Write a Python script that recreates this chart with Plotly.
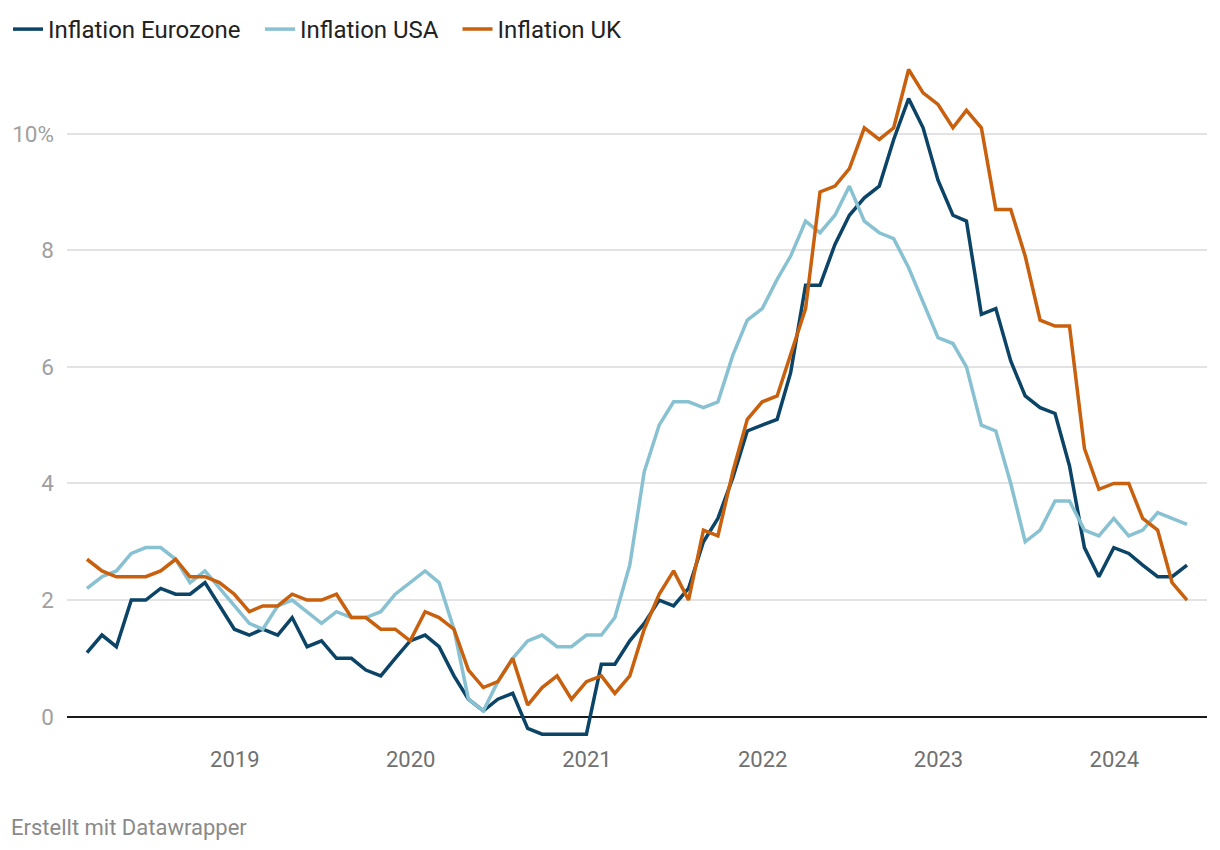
import pandas as pd
import plotly.graph_objects as go

months = pd.date_range("2018-02-01", "2024-05-01", freq="MS") + pd.offsets.MonthEnd(0)

eurozone = [1.1, 1.4, 1.2, 2.0, 2.0, 2.2, 2.1, 2.1, 2.3, 1.9, 1.5,
            1.4, 1.5, 1.4, 1.7, 1.2, 1.3, 1.0, 1.0, 0.8, 0.7, 1.0, 1.3,
            1.4, 1.2, 0.7, 0.3, 0.1, 0.3, 0.4, -0.2, -0.3, -0.3, -0.3, -0.3,
            0.9, 0.9, 1.3, 1.6, 2.0, 1.9, 2.2, 3.0, 3.4, 4.1, 4.9, 5.0,
            5.1, 5.9, 7.4, 7.4, 8.1, 8.6, 8.9, 9.1, 9.9, 10.6, 10.1, 9.2,
            8.6, 8.5, 6.9, 7.0, 6.1, 5.5, 5.3, 5.2, 4.3, 2.9, 2.4, 2.9,
            2.8, 2.6, 2.4, 2.4, 2.6]
usa = [2.2, 2.4, 2.5, 2.8, 2.9, 2.9, 2.7, 2.3, 2.5, 2.2, 1.9,
       1.6, 1.5, 1.9, 2.0, 1.8, 1.6, 1.8, 1.7, 1.7, 1.8, 2.1, 2.3,
       2.5, 2.3, 1.5, 0.3, 0.1, 0.6, 1.0, 1.3, 1.4, 1.2, 1.2, 1.4,
       1.4, 1.7, 2.6, 4.2, 5.0, 5.4, 5.4, 5.3, 5.4, 6.2, 6.8, 7.0,
       7.5, 7.9, 8.5, 8.3, 8.6, 9.1, 8.5, 8.3, 8.2, 7.7, 7.1, 6.5,
       6.4, 6.0, 5.0, 4.9, 4.0, 3.0, 3.2, 3.7, 3.7, 3.2, 3.1, 3.4,
       3.1, 3.2, 3.5, 3.4, 3.3]
uk = [2.7, 2.5, 2.4, 2.4, 2.4, 2.5, 2.7, 2.4, 2.4, 2.3, 2.1,
      1.8, 1.9, 1.9, 2.1, 2.0, 2.0, 2.1, 1.7, 1.7, 1.5, 1.5, 1.3,
      1.8, 1.7, 1.5, 0.8, 0.5, 0.6, 1.0, 0.2, 0.5, 0.7, 0.3, 0.6,
      0.7, 0.4, 0.7, 1.5, 2.1, 2.5, 2.0, 3.2, 3.1, 4.2, 5.1, 5.4,
      5.5, 6.2, 7.0, 9.0, 9.1, 9.4, 10.1, 9.9, 10.1, 11.1, 10.7, 10.5,
      10.1, 10.4, 10.1, 8.7, 8.7, 7.9, 6.8, 6.7, 6.7, 4.6, 3.9, 4.0,
      4.0, 3.4, 3.2, 2.3, 2.0]

series_names = ["Inflation Eurozone", "Inflation USA", "Inflation UK"]
series_colors = ["#0b4466", "#88c1d1", "#c8600e"]

y_tickvals = [0, 2, 4, 6, 8, 10]
y_ticktext = ["0", "2", "4", "6", "8", "10%"]
x_tickvals = ["2019-01-01", "2020-01-01", "2021-01-01", "2022-01-01", "2023-01-01", "2024-01-01"]
x_ticktext = ["2019", "2020", "2021", "2022", "2023", "2024"]

W, H = 1212, 842
L, T, PW, PH = 59, 44, 1140, 688

legend_ids = ["legend", "legend2", "legend3"]
legend_left_px = [0, 252, 449.5]

fig = go.Figure()
for name, vals, col, lid in zip(series_names, [eurozone, usa, uk], series_colors, legend_ids):
    fig.add_trace(go.Scatter(x=months, y=vals, mode="lines", name=name, legend=lid,
                             line=dict(color=col, width=3.5)))

x0 = months[0] - pd.Timedelta(days=41.5)
x1 = months[-1] + pd.Timedelta(days=41.5)

legend_common = dict(orientation="h", xanchor="left", yanchor="middle", yref="paper",
                     y=1 + (T - 21.5) / PH, font=dict(size=24, color="#222222"),
                     itemwidth=30, bgcolor="rgba(0,0,0,0)")

fig.update_layout(
    width=W, height=H,
    margin=dict(l=L, r=W - L - PW, t=T, b=H - T - PH, autoexpand=False),
    paper_bgcolor="white", plot_bgcolor="white",
    font=dict(family="Roboto", color="#333333"),
    showlegend=True,
    legend=dict(x=(legend_left_px[0] - L) / PW, **legend_common),
    legend2=dict(x=(legend_left_px[1] - L) / PW, **legend_common),
    legend3=dict(x=(legend_left_px[2] - L) / PW, **legend_common),
    xaxis=dict(type="date", range=[x0, x1], tickvals=x_tickvals, ticktext=x_ticktext,
               showgrid=False, zeroline=False, showline=False, ticks="",
               tickfont=dict(size=22, color="#707070"), ticklabelstandoff=4),
    yaxis=dict(range=[-0.4, 11.4], tickvals=y_tickvals, ticktext=y_ticktext,
               showgrid=True, gridcolor="#e3e3e3", gridwidth=1.5,
               zeroline=True, zerolinecolor="#1a1a1a", zerolinewidth=2,
               showline=False, ticks="",
               tickfont=dict(size=22.5, color="#a0a0a0"), ticklabelstandoff=12),
)

fig.add_annotation(text="Erstellt mit Datawrapper", xref="paper", yref="paper",
                   x=(0.5 - L) / PW, y=-(819 - (T + PH)) / PH, xanchor="left", yanchor="middle",
                   showarrow=False, font=dict(size=22, color="#8a8a8a", family="Roboto"))

fig.write_html("out.html")
